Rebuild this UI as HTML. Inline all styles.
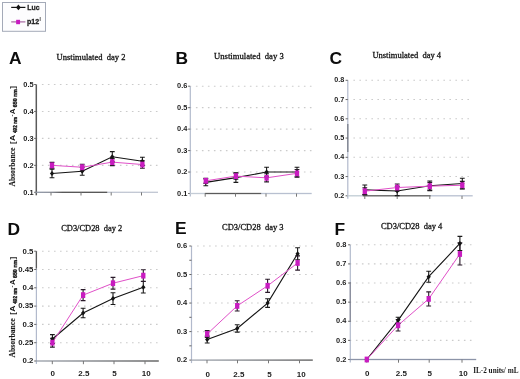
<!DOCTYPE html>
<html><head><meta charset="utf-8"><title>Figure</title>
<style>html,body{margin:0;padding:0;background:#fff;}body{width:520px;height:379px;overflow:hidden;}svg{display:block;will-change:transform;}</style>
</head><body>
<svg width="520" height="379" viewBox="0 0 520 379">
<rect width="520" height="379" fill="#fff"/>
<rect x="2.5" y="2.5" width="43" height="28.8" fill="#fdfdfe" stroke="#a4aab8" stroke-width="1"/>
<line x1="11.2" y1="7.4" x2="25.4" y2="7.4" stroke="#141414" stroke-width="1.2"/>
<path d="M18.4 4.6L20.78 7.4L18.4 10.2L16.02 7.4Z" fill="#141414"/>
<line x1="11.2" y1="21.9" x2="25.4" y2="21.9" stroke="#a05a98" stroke-width="1.1"/>
<rect x="16.15" y="19.8" width="3.9" height="4.4" fill="#c81cc0"/>
<text x="27.3" y="9.8" font-family='&quot;Liberation Sans&quot;, sans-serif' font-weight="bold" font-size="7.8" fill="#1c1c1c" stroke="#1c1c1c" stroke-width="0.3" textLength="12.2" lengthAdjust="spacingAndGlyphs">Luc</text>
<text x="27.0" y="23.8" font-family='&quot;Liberation Sans&quot;, sans-serif' font-weight="bold" font-size="7.2" fill="#1c1c1c" stroke="#1c1c1c" stroke-width="0.3" textLength="12.2" lengthAdjust="spacingAndGlyphs">p12</text>
<text x="39.6" y="20.8" font-family='&quot;Liberation Sans&quot;, sans-serif' font-weight="bold" font-size="4.6" fill="#1c1c1c">I</text>
<line x1="37.3" y1="165.35" x2="158" y2="165.35" stroke="#cbcbcb" stroke-width="1.1" stroke-dasharray="1.6 4.4" stroke-dashoffset="-4.6"/>
<line x1="37.3" y1="138.4" x2="158" y2="138.4" stroke="#cbcbcb" stroke-width="1.1" stroke-dasharray="1.6 4.4" stroke-dashoffset="-4.6"/>
<line x1="37.3" y1="111.45" x2="158" y2="111.45" stroke="#cbcbcb" stroke-width="1.1" stroke-dasharray="1.6 4.4" stroke-dashoffset="-4.6"/>
<line x1="37.3" y1="84.5" x2="158" y2="84.5" stroke="#cbcbcb" stroke-width="1.1" stroke-dasharray="1.6 4.4" stroke-dashoffset="-4.6"/>
<line x1="36.3" y1="84.5" x2="36.3" y2="195.3" stroke="#5a5a5a" stroke-width="1.5"/>
<line x1="34.1" y1="192.3" x2="36.3" y2="192.3" stroke="#666" stroke-width="1"/>
<line x1="34.1" y1="165.35" x2="36.3" y2="165.35" stroke="#666" stroke-width="1"/>
<line x1="34.1" y1="138.4" x2="36.3" y2="138.4" stroke="#666" stroke-width="1"/>
<line x1="34.1" y1="111.45" x2="36.3" y2="111.45" stroke="#666" stroke-width="1"/>
<line x1="34.1" y1="84.5" x2="36.3" y2="84.5" stroke="#666" stroke-width="1"/>
<defs><linearGradient id="xgA" gradientUnits="userSpaceOnUse" x1="35.5" y1="0" x2="158" y2="0"><stop offset="0" stop-color="#9098a8"/><stop offset="0.12" stop-color="#8a8f9a"/><stop offset="0.22" stop-color="#505050"/><stop offset="0.58" stop-color="#505050"/><stop offset="0.59" stop-color="#c0c6d2"/><stop offset="1" stop-color="#c0c6d2"/></linearGradient></defs>
<rect x="35.5" y="191.65" width="122.5" height="1.3" fill="url(#xgA)"/>
<line x1="51" y1="192.3" x2="51" y2="195.5" stroke="#777" stroke-width="1"/>
<line x1="81" y1="192.3" x2="81" y2="195.5" stroke="#777" stroke-width="1"/>
<line x1="111.2" y1="192.3" x2="111.2" y2="195.5" stroke="#777" stroke-width="1"/>
<line x1="141.5" y1="192.3" x2="141.5" y2="195.5" stroke="#777" stroke-width="1"/>
<text x="33.6" y="194.52" text-anchor="end" font-family='&quot;Liberation Sans&quot;, sans-serif' font-weight="bold" font-size="7.4" fill="#1c1c1c">0.1</text>
<text x="33.6" y="167.57" text-anchor="end" font-family='&quot;Liberation Sans&quot;, sans-serif' font-weight="bold" font-size="7.4" fill="#1c1c1c">0.2</text>
<text x="33.6" y="140.62" text-anchor="end" font-family='&quot;Liberation Sans&quot;, sans-serif' font-weight="bold" font-size="7.4" fill="#1c1c1c">0.3</text>
<text x="33.6" y="113.67" text-anchor="end" font-family='&quot;Liberation Sans&quot;, sans-serif' font-weight="bold" font-size="7.4" fill="#1c1c1c">0.4</text>
<text x="33.6" y="86.72" text-anchor="end" font-family='&quot;Liberation Sans&quot;, sans-serif' font-weight="bold" font-size="7.4" fill="#1c1c1c">0.5</text>
<polyline points="52,173.44 82.2,171.28 112.3,156.73 142.4,161.31" fill="none" stroke="#141414" stroke-width="1.1"/>
<polyline points="52,165.35 82.2,167.24 112.3,162.12 142.4,164.54" fill="none" stroke="#e050c8" stroke-width="1.0"/>
<path d="M52 169.12V177.75 M49.6 169.12H54.4 M49.6 177.75H54.4" stroke="#1a1a1a" stroke-width="1.1" fill="none"/>
<path d="M82.2 167.24V175.32 M79.8 167.24H84.6 M79.8 175.32H84.6" stroke="#1a1a1a" stroke-width="1.1" fill="none"/>
<path d="M112.3 151.61V161.85 M109.9 151.61H114.7 M109.9 161.85H114.7" stroke="#1a1a1a" stroke-width="1.1" fill="none"/>
<path d="M142.4 157.27V165.35 M140 157.27H144.8 M140 165.35H144.8" stroke="#1a1a1a" stroke-width="1.1" fill="none"/>
<path d="M52 162.39V168.31 M49.6 162.39H54.4 M49.6 168.31H54.4" stroke="#2a1a2a" stroke-width="1.1" fill="none"/>
<path d="M82.2 164.27V170.2 M79.8 164.27H84.6 M79.8 170.2H84.6" stroke="#2a1a2a" stroke-width="1.1" fill="none"/>
<path d="M112.3 158.61V165.62 M109.9 158.61H114.7 M109.9 165.62H114.7" stroke="#2a1a2a" stroke-width="1.1" fill="none"/>
<path d="M142.4 160.77V168.31 M140 160.77H144.8 M140 168.31H144.8" stroke="#2a1a2a" stroke-width="1.1" fill="none"/>
<path d="M52 170.94L54.12 173.44L52 175.94L49.88 173.44Z" fill="#141414"/>
<path d="M82.2 168.78L84.33 171.28L82.2 173.78L80.08 171.28Z" fill="#141414"/>
<path d="M112.3 154.23L114.42 156.73L112.3 159.23L110.17 156.73Z" fill="#141414"/>
<path d="M142.4 158.81L144.53 161.31L142.4 163.81L140.28 161.31Z" fill="#141414"/>
<rect x="49.85" y="162.45" width="4.3" height="5.8" fill="#c81cc0"/>
<rect x="80.05" y="164.34" width="4.3" height="5.8" fill="#c81cc0"/>
<rect x="110.15" y="159.22" width="4.3" height="5.8" fill="#c81cc0"/>
<rect x="140.25" y="161.64" width="4.3" height="5.8" fill="#c81cc0"/>
<line x1="191.3" y1="172.04" x2="311.7" y2="172.04" stroke="#cbcbcb" stroke-width="1.1" stroke-dasharray="1.6 4.4" stroke-dashoffset="-4.6"/>
<line x1="191.3" y1="150.58" x2="311.7" y2="150.58" stroke="#cbcbcb" stroke-width="1.1" stroke-dasharray="1.6 4.4" stroke-dashoffset="-4.6"/>
<line x1="191.3" y1="129.12" x2="311.7" y2="129.12" stroke="#cbcbcb" stroke-width="1.1" stroke-dasharray="1.6 4.4" stroke-dashoffset="-4.6"/>
<line x1="191.3" y1="107.66" x2="311.7" y2="107.66" stroke="#cbcbcb" stroke-width="1.1" stroke-dasharray="1.6 4.4" stroke-dashoffset="-4.6"/>
<line x1="191.3" y1="86.2" x2="311.7" y2="86.2" stroke="#cbcbcb" stroke-width="1.1" stroke-dasharray="1.6 4.4" stroke-dashoffset="-4.6"/>
<line x1="190.3" y1="86.2" x2="190.3" y2="196.5" stroke="#b2bacc" stroke-width="1.2"/>
<line x1="188.1" y1="193.5" x2="190.3" y2="193.5" stroke="#666" stroke-width="1"/>
<line x1="188.1" y1="172.04" x2="190.3" y2="172.04" stroke="#666" stroke-width="1"/>
<line x1="188.1" y1="150.58" x2="190.3" y2="150.58" stroke="#666" stroke-width="1"/>
<line x1="188.1" y1="129.12" x2="190.3" y2="129.12" stroke="#666" stroke-width="1"/>
<line x1="188.1" y1="107.66" x2="190.3" y2="107.66" stroke="#666" stroke-width="1"/>
<line x1="188.1" y1="86.2" x2="190.3" y2="86.2" stroke="#666" stroke-width="1"/>
<defs><linearGradient id="xgB" gradientUnits="userSpaceOnUse" x1="189.7" y1="0" x2="311.7" y2="0"><stop offset="0" stop-color="#c4ccd6"/><stop offset="0.12" stop-color="#c4ccd6"/><stop offset="0.13" stop-color="#5a5a5a"/><stop offset="0.58" stop-color="#5a5a5a"/><stop offset="0.59" stop-color="#b8c0d0"/><stop offset="1" stop-color="#b8c0d0"/></linearGradient></defs>
<rect x="189.7" y="192.85" width="122" height="1.3" fill="url(#xgB)"/>
<line x1="205.2" y1="193.5" x2="205.2" y2="196.7" stroke="#777" stroke-width="1"/>
<line x1="235.5" y1="193.5" x2="235.5" y2="196.7" stroke="#777" stroke-width="1"/>
<line x1="266" y1="193.5" x2="266" y2="196.7" stroke="#777" stroke-width="1"/>
<line x1="296.5" y1="193.5" x2="296.5" y2="196.7" stroke="#777" stroke-width="1"/>
<text x="187.3" y="195.72" text-anchor="end" font-family='&quot;Liberation Sans&quot;, sans-serif' font-weight="bold" font-size="7.4" fill="#1c1c1c">0.1</text>
<text x="187.3" y="174.26" text-anchor="end" font-family='&quot;Liberation Sans&quot;, sans-serif' font-weight="bold" font-size="7.4" fill="#1c1c1c">0.2</text>
<text x="187.3" y="152.8" text-anchor="end" font-family='&quot;Liberation Sans&quot;, sans-serif' font-weight="bold" font-size="7.4" fill="#1c1c1c">0.3</text>
<text x="187.3" y="131.34" text-anchor="end" font-family='&quot;Liberation Sans&quot;, sans-serif' font-weight="bold" font-size="7.4" fill="#1c1c1c">0.4</text>
<text x="187.3" y="109.88" text-anchor="end" font-family='&quot;Liberation Sans&quot;, sans-serif' font-weight="bold" font-size="7.4" fill="#1c1c1c">0.5</text>
<text x="187.3" y="88.42" text-anchor="end" font-family='&quot;Liberation Sans&quot;, sans-serif' font-weight="bold" font-size="7.4" fill="#1c1c1c">0.6</text>
<polyline points="205.8,182.34 235.9,177.62 266.6,172.04 297,172.04" fill="none" stroke="#141414" stroke-width="1.1"/>
<polyline points="205.8,180.84 235.9,176.12 266.6,177.83 297,173.33" fill="none" stroke="#e050c8" stroke-width="1.0"/>
<path d="M205.8 178.91V185.77 M203.4 178.91H208.2 M203.4 185.77H208.2" stroke="#1a1a1a" stroke-width="1.1" fill="none"/>
<path d="M235.9 172.9V182.34 M233.5 172.9H238.3 M233.5 182.34H238.3" stroke="#1a1a1a" stroke-width="1.1" fill="none"/>
<path d="M266.6 167.32V176.76 M264.2 167.32H269 M264.2 176.76H269" stroke="#1a1a1a" stroke-width="1.1" fill="none"/>
<path d="M297 167.32V176.76 M294.6 167.32H299.4 M294.6 176.76H299.4" stroke="#1a1a1a" stroke-width="1.1" fill="none"/>
<path d="M205.8 178.26V183.41 M203.4 178.26H208.2 M203.4 183.41H208.2" stroke="#2a1a2a" stroke-width="1.1" fill="none"/>
<path d="M235.9 173.11V179.12 M233.5 173.11H238.3 M233.5 179.12H238.3" stroke="#2a1a2a" stroke-width="1.1" fill="none"/>
<path d="M266.6 173.76V181.91 M264.2 173.76H269 M264.2 181.91H269" stroke="#2a1a2a" stroke-width="1.1" fill="none"/>
<path d="M297 169.46V177.19 M294.6 169.46H299.4 M294.6 177.19H299.4" stroke="#2a1a2a" stroke-width="1.1" fill="none"/>
<path d="M205.8 179.84L207.93 182.34L205.8 184.84L203.68 182.34Z" fill="#141414"/>
<path d="M235.9 175.12L238.03 177.62L235.9 180.12L233.78 177.62Z" fill="#141414"/>
<path d="M266.6 169.54L268.73 172.04L266.6 174.54L264.48 172.04Z" fill="#141414"/>
<path d="M297 169.54L299.12 172.04L297 174.54L294.88 172.04Z" fill="#141414"/>
<rect x="203.65" y="177.94" width="4.3" height="5.8" fill="#c81cc0"/>
<rect x="233.75" y="173.22" width="4.3" height="5.8" fill="#c81cc0"/>
<rect x="264.45" y="174.93" width="4.3" height="5.8" fill="#c81cc0"/>
<rect x="294.85" y="170.43" width="4.3" height="5.8" fill="#c81cc0"/>
<line x1="348.8" y1="176.55" x2="469" y2="176.55" stroke="#cbcbcb" stroke-width="1.1" stroke-dasharray="1.6 4.4" stroke-dashoffset="-4.6"/>
<line x1="348.8" y1="157.3" x2="469" y2="157.3" stroke="#cbcbcb" stroke-width="1.1" stroke-dasharray="1.6 4.4" stroke-dashoffset="-4.6"/>
<line x1="348.8" y1="138.05" x2="469" y2="138.05" stroke="#cbcbcb" stroke-width="1.1" stroke-dasharray="1.6 4.4" stroke-dashoffset="-4.6"/>
<line x1="348.8" y1="118.8" x2="469" y2="118.8" stroke="#cbcbcb" stroke-width="1.1" stroke-dasharray="1.6 4.4" stroke-dashoffset="-4.6"/>
<line x1="348.8" y1="99.55" x2="469" y2="99.55" stroke="#cbcbcb" stroke-width="1.1" stroke-dasharray="1.6 4.4" stroke-dashoffset="-4.6"/>
<line x1="348.8" y1="80.3" x2="469" y2="80.3" stroke="#cbcbcb" stroke-width="1.1" stroke-dasharray="1.6 4.4" stroke-dashoffset="-4.6"/>
<line x1="347.8" y1="80.3" x2="347.8" y2="198.8" stroke="#b2bacc" stroke-width="1.2"/>
<line x1="347.8" y1="124" x2="347.8" y2="152" stroke="#7c808c" stroke-width="1.3"/>
<line x1="345.6" y1="195.8" x2="347.8" y2="195.8" stroke="#666" stroke-width="1"/>
<line x1="345.6" y1="176.55" x2="347.8" y2="176.55" stroke="#666" stroke-width="1"/>
<line x1="345.6" y1="157.3" x2="347.8" y2="157.3" stroke="#666" stroke-width="1"/>
<line x1="345.6" y1="138.05" x2="347.8" y2="138.05" stroke="#666" stroke-width="1"/>
<line x1="345.6" y1="118.8" x2="347.8" y2="118.8" stroke="#666" stroke-width="1"/>
<line x1="345.6" y1="99.55" x2="347.8" y2="99.55" stroke="#666" stroke-width="1"/>
<line x1="345.6" y1="80.3" x2="347.8" y2="80.3" stroke="#666" stroke-width="1"/>
<defs><linearGradient id="xgC" gradientUnits="userSpaceOnUse" x1="347.2" y1="0" x2="472.7" y2="0"><stop offset="0" stop-color="#c0ccd4"/><stop offset="0.12" stop-color="#c0ccd4"/><stop offset="0.13" stop-color="#5a5a5a"/><stop offset="0.66" stop-color="#5a5a5a"/><stop offset="0.67" stop-color="#b8c0d0"/><stop offset="1" stop-color="#b8c0d0"/></linearGradient></defs>
<rect x="347.2" y="195.15" width="125.5" height="1.3" fill="url(#xgC)"/>
<line x1="364.8" y1="195.8" x2="364.8" y2="199" stroke="#777" stroke-width="1"/>
<line x1="397.2" y1="195.8" x2="397.2" y2="199" stroke="#777" stroke-width="1"/>
<line x1="429.8" y1="195.8" x2="429.8" y2="199" stroke="#777" stroke-width="1"/>
<line x1="462" y1="195.8" x2="462" y2="199" stroke="#777" stroke-width="1"/>
<text x="344.2" y="197.96" text-anchor="end" font-family='&quot;Liberation Sans&quot;, sans-serif' font-weight="bold" font-size="7.2" fill="#1c1c1c">0.2</text>
<text x="344.2" y="178.71" text-anchor="end" font-family='&quot;Liberation Sans&quot;, sans-serif' font-weight="bold" font-size="7.2" fill="#1c1c1c">0.3</text>
<text x="344.2" y="159.46" text-anchor="end" font-family='&quot;Liberation Sans&quot;, sans-serif' font-weight="bold" font-size="7.2" fill="#1c1c1c">0.4</text>
<text x="344.2" y="140.21" text-anchor="end" font-family='&quot;Liberation Sans&quot;, sans-serif' font-weight="bold" font-size="7.2" fill="#1c1c1c">0.5</text>
<text x="344.2" y="120.96" text-anchor="end" font-family='&quot;Liberation Sans&quot;, sans-serif' font-weight="bold" font-size="7.2" fill="#1c1c1c">0.6</text>
<text x="344.2" y="101.71" text-anchor="end" font-family='&quot;Liberation Sans&quot;, sans-serif' font-weight="bold" font-size="7.2" fill="#1c1c1c">0.7</text>
<text x="344.2" y="82.46" text-anchor="end" font-family='&quot;Liberation Sans&quot;, sans-serif' font-weight="bold" font-size="7.2" fill="#1c1c1c">0.8</text>
<polyline points="364.8,189.83 397.2,190.99 429.8,185.79 462.3,183.48" fill="none" stroke="#141414" stroke-width="1.1"/>
<polyline points="364.8,191.18 397.2,187.52 429.8,186.18 462.3,185.21" fill="none" stroke="#e050c8" stroke-width="1.0"/>
<path d="M364.8 185.02V194.65 M362.4 185.02H367.2 M362.4 194.65H367.2" stroke="#1a1a1a" stroke-width="1.1" fill="none"/>
<path d="M397.2 186.37V195.61 M394.8 186.37H399.6 M394.8 195.61H399.6" stroke="#1a1a1a" stroke-width="1.1" fill="none"/>
<path d="M429.8 180.98V190.6 M427.4 180.98H432.2 M427.4 190.6H432.2" stroke="#1a1a1a" stroke-width="1.1" fill="none"/>
<path d="M462.3 178.28V188.68 M459.9 178.28H464.7 M459.9 188.68H464.7" stroke="#1a1a1a" stroke-width="1.1" fill="none"/>
<path d="M364.8 187.72V194.65 M362.4 187.72H367.2 M362.4 194.65H367.2" stroke="#2a1a2a" stroke-width="1.1" fill="none"/>
<path d="M397.2 184.06V190.99 M394.8 184.06H399.6 M394.8 190.99H399.6" stroke="#2a1a2a" stroke-width="1.1" fill="none"/>
<path d="M429.8 182.33V190.03 M427.4 182.33H432.2 M427.4 190.03H432.2" stroke="#2a1a2a" stroke-width="1.1" fill="none"/>
<path d="M462.3 181.36V189.06 M459.9 181.36H464.7 M459.9 189.06H464.7" stroke="#2a1a2a" stroke-width="1.1" fill="none"/>
<path d="M364.8 187.33L366.93 189.83L364.8 192.33L362.68 189.83Z" fill="#141414"/>
<path d="M397.2 188.49L399.32 190.99L397.2 193.49L395.07 190.99Z" fill="#141414"/>
<path d="M429.8 183.29L431.93 185.79L429.8 188.29L427.68 185.79Z" fill="#141414"/>
<path d="M462.3 180.98L464.43 183.48L462.3 185.98L460.18 183.48Z" fill="#141414"/>
<rect x="362.65" y="188.28" width="4.3" height="5.8" fill="#c81cc0"/>
<rect x="395.05" y="184.62" width="4.3" height="5.8" fill="#c81cc0"/>
<rect x="427.65" y="183.28" width="4.3" height="5.8" fill="#c81cc0"/>
<rect x="460.15" y="182.31" width="4.3" height="5.8" fill="#c81cc0"/>
<line x1="37.4" y1="342.7" x2="158.5" y2="342.7" stroke="#cbcbcb" stroke-width="1.1" stroke-dasharray="1.6 4.4" stroke-dashoffset="-4.6"/>
<line x1="37.4" y1="324.4" x2="158.5" y2="324.4" stroke="#cbcbcb" stroke-width="1.1" stroke-dasharray="1.6 4.4" stroke-dashoffset="-4.6"/>
<line x1="37.4" y1="306.1" x2="158.5" y2="306.1" stroke="#cbcbcb" stroke-width="1.1" stroke-dasharray="1.6 4.4" stroke-dashoffset="-4.6"/>
<line x1="37.4" y1="287.8" x2="158.5" y2="287.8" stroke="#cbcbcb" stroke-width="1.1" stroke-dasharray="1.6 4.4" stroke-dashoffset="-4.6"/>
<line x1="37.4" y1="269.5" x2="158.5" y2="269.5" stroke="#cbcbcb" stroke-width="1.1" stroke-dasharray="1.6 4.4" stroke-dashoffset="-4.6"/>
<line x1="37.4" y1="251.2" x2="158.5" y2="251.2" stroke="#cbcbcb" stroke-width="1.1" stroke-dasharray="1.6 4.4" stroke-dashoffset="-4.6"/>
<line x1="36.4" y1="251.2" x2="36.4" y2="364" stroke="#b2bacc" stroke-width="1.2"/>
<line x1="36.4" y1="251.2" x2="36.4" y2="268.5" stroke="#5a5a5a" stroke-width="1.3"/>
<line x1="34.2" y1="361" x2="36.4" y2="361" stroke="#666" stroke-width="1"/>
<line x1="34.2" y1="342.7" x2="36.4" y2="342.7" stroke="#666" stroke-width="1"/>
<line x1="34.2" y1="324.4" x2="36.4" y2="324.4" stroke="#666" stroke-width="1"/>
<line x1="34.2" y1="306.1" x2="36.4" y2="306.1" stroke="#666" stroke-width="1"/>
<line x1="34.2" y1="287.8" x2="36.4" y2="287.8" stroke="#666" stroke-width="1"/>
<line x1="34.2" y1="269.5" x2="36.4" y2="269.5" stroke="#666" stroke-width="1"/>
<line x1="34.2" y1="251.2" x2="36.4" y2="251.2" stroke="#666" stroke-width="1"/>
<defs><linearGradient id="xgD" gradientUnits="userSpaceOnUse" x1="35.8" y1="0" x2="158.8" y2="0"><stop offset="0" stop-color="#9aa0aa"/><stop offset="1" stop-color="#505050"/></linearGradient></defs>
<rect x="35.8" y="360.35" width="123" height="1.3" fill="url(#xgD)"/>
<line x1="52.3" y1="361" x2="52.3" y2="364.2" stroke="#777" stroke-width="1"/>
<line x1="83.4" y1="361" x2="83.4" y2="364.2" stroke="#777" stroke-width="1"/>
<line x1="114" y1="361" x2="114" y2="364.2" stroke="#777" stroke-width="1"/>
<line x1="145" y1="361" x2="145" y2="364.2" stroke="#777" stroke-width="1"/>
<text x="33.4" y="363.34" text-anchor="end" font-family='&quot;Liberation Sans&quot;, sans-serif' font-weight="bold" font-size="7.8" fill="#1c1c1c">0.2</text>
<text x="33.4" y="345.04" text-anchor="end" font-family='&quot;Liberation Sans&quot;, sans-serif' font-weight="bold" font-size="7.8" fill="#1c1c1c">0.25</text>
<text x="33.4" y="326.74" text-anchor="end" font-family='&quot;Liberation Sans&quot;, sans-serif' font-weight="bold" font-size="7.8" fill="#1c1c1c">0.3</text>
<text x="33.4" y="308.44" text-anchor="end" font-family='&quot;Liberation Sans&quot;, sans-serif' font-weight="bold" font-size="7.8" fill="#1c1c1c">0.35</text>
<text x="33.4" y="290.14" text-anchor="end" font-family='&quot;Liberation Sans&quot;, sans-serif' font-weight="bold" font-size="7.8" fill="#1c1c1c">0.4</text>
<text x="33.4" y="271.84" text-anchor="end" font-family='&quot;Liberation Sans&quot;, sans-serif' font-weight="bold" font-size="7.8" fill="#1c1c1c">0.45</text>
<text x="33.4" y="253.54" text-anchor="end" font-family='&quot;Liberation Sans&quot;, sans-serif' font-weight="bold" font-size="7.8" fill="#1c1c1c">0.5</text>
<polyline points="52.4,339.04 83.1,313.05 113,298.6 143.3,287.18" fill="none" stroke="#141414" stroke-width="1.1"/>
<polyline points="52.4,342.7 83.1,295.12 113,283.23 143.3,275.65" fill="none" stroke="#e050c8" stroke-width="1.0"/>
<path d="M52.4 334.65V343.43 M50 334.65H54.8 M50 343.43H54.8" stroke="#1a1a1a" stroke-width="1.1" fill="none"/>
<path d="M83.1 308.3V317.81 M80.7 308.3H85.5 M80.7 317.81H85.5" stroke="#1a1a1a" stroke-width="1.1" fill="none"/>
<path d="M113 292.74V304.45 M110.6 292.74H115.4 M110.6 304.45H115.4" stroke="#1a1a1a" stroke-width="1.1" fill="none"/>
<path d="M143.3 281.32V293.03 M140.9 281.32H145.7 M140.9 293.03H145.7" stroke="#1a1a1a" stroke-width="1.1" fill="none"/>
<path d="M52.4 338.31V347.09 M50 338.31H54.8 M50 347.09H54.8" stroke="#2a1a2a" stroke-width="1.1" fill="none"/>
<path d="M83.1 289.63V300.61 M80.7 289.63H85.5 M80.7 300.61H85.5" stroke="#2a1a2a" stroke-width="1.1" fill="none"/>
<path d="M113 277.37V289.08 M110.6 277.37H115.4 M110.6 289.08H115.4" stroke="#2a1a2a" stroke-width="1.1" fill="none"/>
<path d="M143.3 269.79V281.5 M140.9 269.79H145.7 M140.9 281.5H145.7" stroke="#2a1a2a" stroke-width="1.1" fill="none"/>
<path d="M52.4 336.54L54.52 339.04L52.4 341.54L50.27 339.04Z" fill="#141414"/>
<path d="M83.1 310.55L85.22 313.05L83.1 315.55L80.97 313.05Z" fill="#141414"/>
<path d="M113 296.1L115.12 298.6L113 301.1L110.88 298.6Z" fill="#141414"/>
<path d="M143.3 284.68L145.43 287.18L143.3 289.68L141.18 287.18Z" fill="#141414"/>
<rect x="50.25" y="339.8" width="4.3" height="5.8" fill="#c81cc0"/>
<rect x="80.95" y="292.22" width="4.3" height="5.8" fill="#c81cc0"/>
<rect x="110.85" y="280.33" width="4.3" height="5.8" fill="#c81cc0"/>
<rect x="141.15" y="272.75" width="4.3" height="5.8" fill="#c81cc0"/>
<text x="52.7" y="376.3" text-anchor="middle" font-family='&quot;Liberation Sans&quot;, sans-serif' font-weight="bold" font-size="8" fill="#1c1c1c">0</text>
<text x="83.9" y="376.3" text-anchor="middle" font-family='&quot;Liberation Sans&quot;, sans-serif' font-weight="bold" font-size="8" fill="#1c1c1c">2.5</text>
<text x="114.6" y="376.3" text-anchor="middle" font-family='&quot;Liberation Sans&quot;, sans-serif' font-weight="bold" font-size="8" fill="#1c1c1c">5</text>
<text x="146.2" y="376.3" text-anchor="middle" font-family='&quot;Liberation Sans&quot;, sans-serif' font-weight="bold" font-size="8" fill="#1c1c1c">10</text>
<line x1="192.5" y1="331.58" x2="314" y2="331.58" stroke="#cbcbcb" stroke-width="1.1" stroke-dasharray="1.6 4.4" stroke-dashoffset="-4.6"/>
<line x1="192.5" y1="303.05" x2="314" y2="303.05" stroke="#cbcbcb" stroke-width="1.1" stroke-dasharray="1.6 4.4" stroke-dashoffset="-4.6"/>
<line x1="192.5" y1="274.52" x2="314" y2="274.52" stroke="#cbcbcb" stroke-width="1.1" stroke-dasharray="1.6 4.4" stroke-dashoffset="-4.6"/>
<line x1="192.5" y1="246" x2="314" y2="246" stroke="#cbcbcb" stroke-width="1.1" stroke-dasharray="1.6 4.4" stroke-dashoffset="-4.6"/>
<line x1="191.5" y1="246" x2="191.5" y2="363.1" stroke="#b2bacc" stroke-width="1.2"/>
<line x1="189.3" y1="360.1" x2="191.5" y2="360.1" stroke="#666" stroke-width="1"/>
<line x1="189.3" y1="331.58" x2="191.5" y2="331.58" stroke="#666" stroke-width="1"/>
<line x1="189.3" y1="303.05" x2="191.5" y2="303.05" stroke="#666" stroke-width="1"/>
<line x1="189.3" y1="274.52" x2="191.5" y2="274.52" stroke="#666" stroke-width="1"/>
<line x1="189.3" y1="246" x2="191.5" y2="246" stroke="#666" stroke-width="1"/>
<line x1="189.3" y1="345.84" x2="191.5" y2="345.84" stroke="#666" stroke-width="1"/>
<line x1="189.3" y1="317.31" x2="191.5" y2="317.31" stroke="#666" stroke-width="1"/>
<line x1="189.3" y1="288.79" x2="191.5" y2="288.79" stroke="#666" stroke-width="1"/>
<line x1="189.3" y1="260.26" x2="191.5" y2="260.26" stroke="#666" stroke-width="1"/>
<defs><linearGradient id="xgE" gradientUnits="userSpaceOnUse" x1="190.9" y1="0" x2="312.8" y2="0"><stop offset="0" stop-color="#a4aab4"/><stop offset="1" stop-color="#585858"/></linearGradient></defs>
<rect x="190.9" y="359.45" width="121.9" height="1.3" fill="url(#xgE)"/>
<line x1="207" y1="360.1" x2="207" y2="363.3" stroke="#777" stroke-width="1"/>
<line x1="237.5" y1="360.1" x2="237.5" y2="363.3" stroke="#777" stroke-width="1"/>
<line x1="268.5" y1="360.1" x2="268.5" y2="363.3" stroke="#777" stroke-width="1"/>
<line x1="299.5" y1="360.1" x2="299.5" y2="363.3" stroke="#777" stroke-width="1"/>
<text x="187.2" y="362.38" text-anchor="end" font-family='&quot;Liberation Sans&quot;, sans-serif' font-weight="bold" font-size="7.6" fill="#1c1c1c">0.2</text>
<text x="187.2" y="333.86" text-anchor="end" font-family='&quot;Liberation Sans&quot;, sans-serif' font-weight="bold" font-size="7.6" fill="#1c1c1c">0.3</text>
<text x="187.2" y="305.33" text-anchor="end" font-family='&quot;Liberation Sans&quot;, sans-serif' font-weight="bold" font-size="7.6" fill="#1c1c1c">0.4</text>
<text x="187.2" y="276.8" text-anchor="end" font-family='&quot;Liberation Sans&quot;, sans-serif' font-weight="bold" font-size="7.6" fill="#1c1c1c">0.5</text>
<text x="187.2" y="248.28" text-anchor="end" font-family='&quot;Liberation Sans&quot;, sans-serif' font-weight="bold" font-size="7.6" fill="#1c1c1c">0.6</text>
<polyline points="207.2,339.56 237.2,328.44 267.6,303.05 297.6,253.7" fill="none" stroke="#141414" stroke-width="1.1"/>
<polyline points="207.2,334 237.2,305.9 267.6,285.79 297.6,262.97" fill="none" stroke="#e050c8" stroke-width="1.0"/>
<path d="M207.2 336.14V342.99 M204.8 336.14H209.6 M204.8 342.99H209.6" stroke="#1a1a1a" stroke-width="1.1" fill="none"/>
<path d="M237.2 324.73V332.15 M234.8 324.73H239.6 M234.8 332.15H239.6" stroke="#1a1a1a" stroke-width="1.1" fill="none"/>
<path d="M267.6 298.77V307.33 M265.2 298.77H270 M265.2 307.33H270" stroke="#1a1a1a" stroke-width="1.1" fill="none"/>
<path d="M297.6 247.71V259.69 M295.2 247.71H300 M295.2 259.69H300" stroke="#1a1a1a" stroke-width="1.1" fill="none"/>
<path d="M207.2 330.58V337.42 M204.8 330.58H209.6 M204.8 337.42H209.6" stroke="#2a1a2a" stroke-width="1.1" fill="none"/>
<path d="M237.2 300.77V311.04 M234.8 300.77H239.6 M234.8 311.04H239.6" stroke="#2a1a2a" stroke-width="1.1" fill="none"/>
<path d="M267.6 279.23V292.35 M265.2 279.23H270 M265.2 292.35H270" stroke="#2a1a2a" stroke-width="1.1" fill="none"/>
<path d="M297.6 255.84V270.1 M295.2 255.84H300 M295.2 270.1H300" stroke="#2a1a2a" stroke-width="1.1" fill="none"/>
<path d="M207.2 337.06L209.32 339.56L207.2 342.06L205.07 339.56Z" fill="#141414"/>
<path d="M237.2 325.94L239.32 328.44L237.2 330.94L235.07 328.44Z" fill="#141414"/>
<path d="M267.6 300.55L269.73 303.05L267.6 305.55L265.48 303.05Z" fill="#141414"/>
<path d="M297.6 251.2L299.73 253.7L297.6 256.2L295.48 253.7Z" fill="#141414"/>
<rect x="205.05" y="331.1" width="4.3" height="5.8" fill="#c81cc0"/>
<rect x="235.05" y="303" width="4.3" height="5.8" fill="#c81cc0"/>
<rect x="265.45" y="282.89" width="4.3" height="5.8" fill="#c81cc0"/>
<rect x="295.45" y="260.07" width="4.3" height="5.8" fill="#c81cc0"/>
<text x="207.7" y="376.8" text-anchor="middle" font-family='&quot;Liberation Sans&quot;, sans-serif' font-weight="bold" font-size="8" fill="#1c1c1c">0</text>
<text x="238.9" y="376.8" text-anchor="middle" font-family='&quot;Liberation Sans&quot;, sans-serif' font-weight="bold" font-size="8" fill="#1c1c1c">2.5</text>
<text x="269.4" y="376.8" text-anchor="middle" font-family='&quot;Liberation Sans&quot;, sans-serif' font-weight="bold" font-size="8" fill="#1c1c1c">5</text>
<text x="301.2" y="376.8" text-anchor="middle" font-family='&quot;Liberation Sans&quot;, sans-serif' font-weight="bold" font-size="8" fill="#1c1c1c">10</text>
<line x1="351.3" y1="340.38" x2="473.5" y2="340.38" stroke="#cbcbcb" stroke-width="1.1" stroke-dasharray="1.6 4.4" stroke-dashoffset="-4.6"/>
<line x1="351.3" y1="321.27" x2="473.5" y2="321.27" stroke="#cbcbcb" stroke-width="1.1" stroke-dasharray="1.6 4.4" stroke-dashoffset="-4.6"/>
<line x1="351.3" y1="302.15" x2="473.5" y2="302.15" stroke="#cbcbcb" stroke-width="1.1" stroke-dasharray="1.6 4.4" stroke-dashoffset="-4.6"/>
<line x1="351.3" y1="283.03" x2="473.5" y2="283.03" stroke="#cbcbcb" stroke-width="1.1" stroke-dasharray="1.6 4.4" stroke-dashoffset="-4.6"/>
<line x1="351.3" y1="263.92" x2="473.5" y2="263.92" stroke="#cbcbcb" stroke-width="1.1" stroke-dasharray="1.6 4.4" stroke-dashoffset="-4.6"/>
<line x1="351.3" y1="244.8" x2="473.5" y2="244.8" stroke="#cbcbcb" stroke-width="1.1" stroke-dasharray="1.6 4.4" stroke-dashoffset="-4.6"/>
<line x1="350.3" y1="244.8" x2="350.3" y2="362.5" stroke="#b2bacc" stroke-width="1.2"/>
<line x1="350.3" y1="282" x2="350.3" y2="322" stroke="#8a8e9c" stroke-width="1.3"/>
<line x1="348.1" y1="359.5" x2="350.3" y2="359.5" stroke="#666" stroke-width="1"/>
<line x1="348.1" y1="340.38" x2="350.3" y2="340.38" stroke="#666" stroke-width="1"/>
<line x1="348.1" y1="321.27" x2="350.3" y2="321.27" stroke="#666" stroke-width="1"/>
<line x1="348.1" y1="302.15" x2="350.3" y2="302.15" stroke="#666" stroke-width="1"/>
<line x1="348.1" y1="283.03" x2="350.3" y2="283.03" stroke="#666" stroke-width="1"/>
<line x1="348.1" y1="263.92" x2="350.3" y2="263.92" stroke="#666" stroke-width="1"/>
<line x1="348.1" y1="244.8" x2="350.3" y2="244.8" stroke="#666" stroke-width="1"/>
<defs><linearGradient id="xgF" gradientUnits="userSpaceOnUse" x1="349.7" y1="0" x2="476.2" y2="0"><stop offset="0" stop-color="#8c94a8"/><stop offset="1" stop-color="#8c94a8"/></linearGradient></defs>
<rect x="349.7" y="358.85" width="126.5" height="1.3" fill="url(#xgF)"/>
<line x1="366.8" y1="359.5" x2="366.8" y2="362.7" stroke="#777" stroke-width="1"/>
<line x1="398.5" y1="359.5" x2="398.5" y2="362.7" stroke="#777" stroke-width="1"/>
<line x1="429.2" y1="359.5" x2="429.2" y2="362.7" stroke="#777" stroke-width="1"/>
<line x1="462" y1="359.5" x2="462" y2="362.7" stroke="#777" stroke-width="1"/>
<text x="346.3" y="361.72" text-anchor="end" font-family='&quot;Liberation Sans&quot;, sans-serif' font-weight="bold" font-size="7.4" fill="#1c1c1c">0.2</text>
<text x="346.3" y="342.6" text-anchor="end" font-family='&quot;Liberation Sans&quot;, sans-serif' font-weight="bold" font-size="7.4" fill="#1c1c1c">0.3</text>
<text x="346.3" y="323.49" text-anchor="end" font-family='&quot;Liberation Sans&quot;, sans-serif' font-weight="bold" font-size="7.4" fill="#1c1c1c">0.4</text>
<text x="346.3" y="304.37" text-anchor="end" font-family='&quot;Liberation Sans&quot;, sans-serif' font-weight="bold" font-size="7.4" fill="#1c1c1c">0.5</text>
<text x="346.3" y="285.25" text-anchor="end" font-family='&quot;Liberation Sans&quot;, sans-serif' font-weight="bold" font-size="7.4" fill="#1c1c1c">0.6</text>
<text x="346.3" y="266.14" text-anchor="end" font-family='&quot;Liberation Sans&quot;, sans-serif' font-weight="bold" font-size="7.4" fill="#1c1c1c">0.7</text>
<text x="346.3" y="247.02" text-anchor="end" font-family='&quot;Liberation Sans&quot;, sans-serif' font-weight="bold" font-size="7.4" fill="#1c1c1c">0.8</text>
<polyline points="366.8,359.5 398.1,320.31 428.7,276.72 459.9,243.46" fill="none" stroke="#141414" stroke-width="1.1"/>
<polyline points="366.8,359.5 398.1,325.28 428.7,298.9 459.9,253.98" fill="none" stroke="#e050c8" stroke-width="1.0"/>

<path d="M398.1 317.25V323.37 M395.7 317.25H400.5 M395.7 323.37H400.5" stroke="#1a1a1a" stroke-width="1.1" fill="none"/>
<path d="M428.7 271.18V282.27 M426.3 271.18H431.1 M426.3 282.27H431.1" stroke="#1a1a1a" stroke-width="1.1" fill="none"/>
<path d="M459.9 236.39V250.54 M457.5 236.39H462.3 M457.5 250.54H462.3" stroke="#1a1a1a" stroke-width="1.1" fill="none"/>

<path d="M398.1 319.55V331.02 M395.7 319.55H400.5 M395.7 331.02H400.5" stroke="#2a1a2a" stroke-width="1.1" fill="none"/>
<path d="M428.7 291.83V305.97 M426.3 291.83H431.1 M426.3 305.97H431.1" stroke="#2a1a2a" stroke-width="1.1" fill="none"/>
<path d="M459.9 242.89V265.06 M457.5 242.89H462.3 M457.5 265.06H462.3" stroke="#2a1a2a" stroke-width="1.1" fill="none"/>
<path d="M366.8 357L368.93 359.5L366.8 362L364.68 359.5Z" fill="#141414"/>
<path d="M398.1 317.81L400.23 320.31L398.1 322.81L395.98 320.31Z" fill="#141414"/>
<path d="M428.7 274.22L430.82 276.72L428.7 279.22L426.57 276.72Z" fill="#141414"/>
<path d="M459.9 240.96L462.02 243.46L459.9 245.96L457.77 243.46Z" fill="#141414"/>
<rect x="364.65" y="356.6" width="4.3" height="5.8" fill="#c81cc0"/>
<rect x="395.95" y="322.38" width="4.3" height="5.8" fill="#c81cc0"/>
<rect x="426.55" y="296" width="4.3" height="5.8" fill="#c81cc0"/>
<rect x="457.75" y="251.08" width="4.3" height="5.8" fill="#c81cc0"/>
<text x="367.3" y="376.4" text-anchor="middle" font-family='&quot;Liberation Sans&quot;, sans-serif' font-weight="bold" font-size="8" fill="#1c1c1c">0</text>
<text x="401.3" y="376.4" text-anchor="middle" font-family='&quot;Liberation Sans&quot;, sans-serif' font-weight="bold" font-size="8" fill="#1c1c1c">2.5</text>
<text x="429.7" y="376.4" text-anchor="middle" font-family='&quot;Liberation Sans&quot;, sans-serif' font-weight="bold" font-size="8" fill="#1c1c1c">5</text>
<text x="463.2" y="376.4" text-anchor="middle" font-family='&quot;Liberation Sans&quot;, sans-serif' font-weight="bold" font-size="8" fill="#1c1c1c">10</text>
<text x="8.9" y="63.5" font-family='&quot;Liberation Sans&quot;, sans-serif' font-weight="bold" font-size="17.4" fill="#0c0c0c">A</text>
<text x="175.4" y="63.5" font-family='&quot;Liberation Sans&quot;, sans-serif' font-weight="bold" font-size="17.4" fill="#0c0c0c">B</text>
<text x="329.6" y="63.6" font-family='&quot;Liberation Sans&quot;, sans-serif' font-weight="bold" font-size="17.4" fill="#0c0c0c">C</text>
<text x="7.4" y="235" font-family='&quot;Liberation Sans&quot;, sans-serif' font-weight="bold" font-size="17.4" fill="#0c0c0c">D</text>
<text x="174.9" y="234.2" font-family='&quot;Liberation Sans&quot;, sans-serif' font-weight="bold" font-size="17.4" fill="#0c0c0c">E</text>
<text x="334.5" y="234.7" font-family='&quot;Liberation Sans&quot;, sans-serif' font-weight="bold" font-size="17.4" fill="#0c0c0c">F</text>
<text x="56.6" y="59.8" font-family='&quot;Liberation Serif&quot;, serif' font-size="8.7" fill="#111" stroke="#111" stroke-width="0.28" textLength="68.8" lengthAdjust="spacingAndGlyphs" xml:space="preserve">Unstimulated  day 2</text>
<text x="214.1" y="59.1" font-family='&quot;Liberation Serif&quot;, serif' font-size="8.7" fill="#111" stroke="#111" stroke-width="0.28" textLength="69.6" lengthAdjust="spacingAndGlyphs" xml:space="preserve">Unstimulated  day 3</text>
<text x="372.4" y="58.2" font-family='&quot;Liberation Serif&quot;, serif' font-size="8.7" fill="#111" stroke="#111" stroke-width="0.28" textLength="68.7" lengthAdjust="spacingAndGlyphs" xml:space="preserve">Unstimulated  day 4</text>
<text x="61.2" y="231" font-family='&quot;Liberation Serif&quot;, serif' font-size="8.7" fill="#111" stroke="#111" stroke-width="0.28" textLength="61.1" lengthAdjust="spacingAndGlyphs" xml:space="preserve">CD3/CD28  day 2</text>
<text x="222" y="229.6" font-family='&quot;Liberation Serif&quot;, serif' font-size="8.7" fill="#111" stroke="#111" stroke-width="0.28" textLength="61.5" lengthAdjust="spacingAndGlyphs" xml:space="preserve">CD3/CD28  day 3</text>
<text x="380.9" y="228.6" font-family='&quot;Liberation Serif&quot;, serif' font-size="8.7" fill="#111" stroke="#111" stroke-width="0.28" textLength="61.4" lengthAdjust="spacingAndGlyphs" xml:space="preserve">CD3/CD28  day 4</text>
<g transform="translate(15,186.6) rotate(-90)" fill="#1a1a1a">
<text x="0" y="0" font-family='&quot;Liberation Serif&quot;, serif' font-size="8.4" font-weight="bold" stroke="#1a1a1a" stroke-width="0.15" textLength="39" lengthAdjust="spacingAndGlyphs">Absorbance</text>
<text x="42.6" y="-0.4" font-family='&quot;Liberation Sans&quot;, sans-serif' font-size="8" font-weight="bold">[</text>
<text x="45.6" y="0" font-family='&quot;Liberation Sans&quot;, sans-serif' font-size="8" font-weight="bold" textLength="6.2" lengthAdjust="spacingAndGlyphs">A</text>
<text x="53.6" y="1.5" font-family='&quot;Liberation Sans&quot;, sans-serif' font-size="4.6" font-weight="bold" stroke="#1a1a1a" stroke-width="0.35" textLength="7.8" lengthAdjust="spacingAndGlyphs">492</text>
<text x="62.8" y="1.5" font-family='&quot;Liberation Sans&quot;, sans-serif' font-size="4.6" font-weight="bold" stroke="#1a1a1a" stroke-width="0.35" textLength="6.6" lengthAdjust="spacingAndGlyphs">nm</text>
<text x="70.0" y="-1.4" font-family='&quot;Liberation Sans&quot;, sans-serif' font-size="6" font-weight="bold">-</text>
<text x="72.3" y="0" font-family='&quot;Liberation Sans&quot;, sans-serif' font-size="8" font-weight="bold" textLength="5.6" lengthAdjust="spacingAndGlyphs">A</text>
<text x="79.4" y="1.5" font-family='&quot;Liberation Sans&quot;, sans-serif' font-size="4.6" font-weight="bold" stroke="#1a1a1a" stroke-width="0.35" textLength="8.8" lengthAdjust="spacingAndGlyphs">650</text>
<text x="89.8" y="1.5" font-family='&quot;Liberation Sans&quot;, sans-serif' font-size="4.6" font-weight="bold" stroke="#1a1a1a" stroke-width="0.35" textLength="7.8" lengthAdjust="spacingAndGlyphs">nm</text>
<text x="97.8" y="-0.4" font-family='&quot;Liberation Sans&quot;, sans-serif' font-size="8" font-weight="bold">]</text>
</g>
<g transform="translate(15.1,357.4) rotate(-90)" fill="#1a1a1a">
<text x="0" y="0" font-family='&quot;Liberation Serif&quot;, serif' font-size="8.4" font-weight="bold" stroke="#1a1a1a" stroke-width="0.15" textLength="39" lengthAdjust="spacingAndGlyphs">Absorbance</text>
<text x="42.6" y="-0.4" font-family='&quot;Liberation Sans&quot;, sans-serif' font-size="8" font-weight="bold">[</text>
<text x="45.6" y="0" font-family='&quot;Liberation Sans&quot;, sans-serif' font-size="8" font-weight="bold" textLength="6.2" lengthAdjust="spacingAndGlyphs">A</text>
<text x="53.6" y="1.5" font-family='&quot;Liberation Sans&quot;, sans-serif' font-size="4.6" font-weight="bold" stroke="#1a1a1a" stroke-width="0.35" textLength="7.8" lengthAdjust="spacingAndGlyphs">492</text>
<text x="62.8" y="1.5" font-family='&quot;Liberation Sans&quot;, sans-serif' font-size="4.6" font-weight="bold" stroke="#1a1a1a" stroke-width="0.35" textLength="6.6" lengthAdjust="spacingAndGlyphs">nm</text>
<text x="70.0" y="-1.4" font-family='&quot;Liberation Sans&quot;, sans-serif' font-size="6" font-weight="bold">-</text>
<text x="72.3" y="0" font-family='&quot;Liberation Sans&quot;, sans-serif' font-size="8" font-weight="bold" textLength="5.6" lengthAdjust="spacingAndGlyphs">A</text>
<text x="79.4" y="1.5" font-family='&quot;Liberation Sans&quot;, sans-serif' font-size="4.6" font-weight="bold" stroke="#1a1a1a" stroke-width="0.35" textLength="8.8" lengthAdjust="spacingAndGlyphs">650</text>
<text x="89.8" y="1.5" font-family='&quot;Liberation Sans&quot;, sans-serif' font-size="4.6" font-weight="bold" stroke="#1a1a1a" stroke-width="0.35" textLength="7.8" lengthAdjust="spacingAndGlyphs">nm</text>
<text x="97.8" y="-0.4" font-family='&quot;Liberation Sans&quot;, sans-serif' font-size="8" font-weight="bold">]</text>
</g>
<text x="473.2" y="373.2" font-family='&quot;Liberation Serif&quot;, serif' font-weight="bold" font-size="8" fill="#1a1a1a" textLength="45.3" lengthAdjust="spacingAndGlyphs" xml:space="preserve">IL-2 units/ mL</text>
</svg>
</body></html>
